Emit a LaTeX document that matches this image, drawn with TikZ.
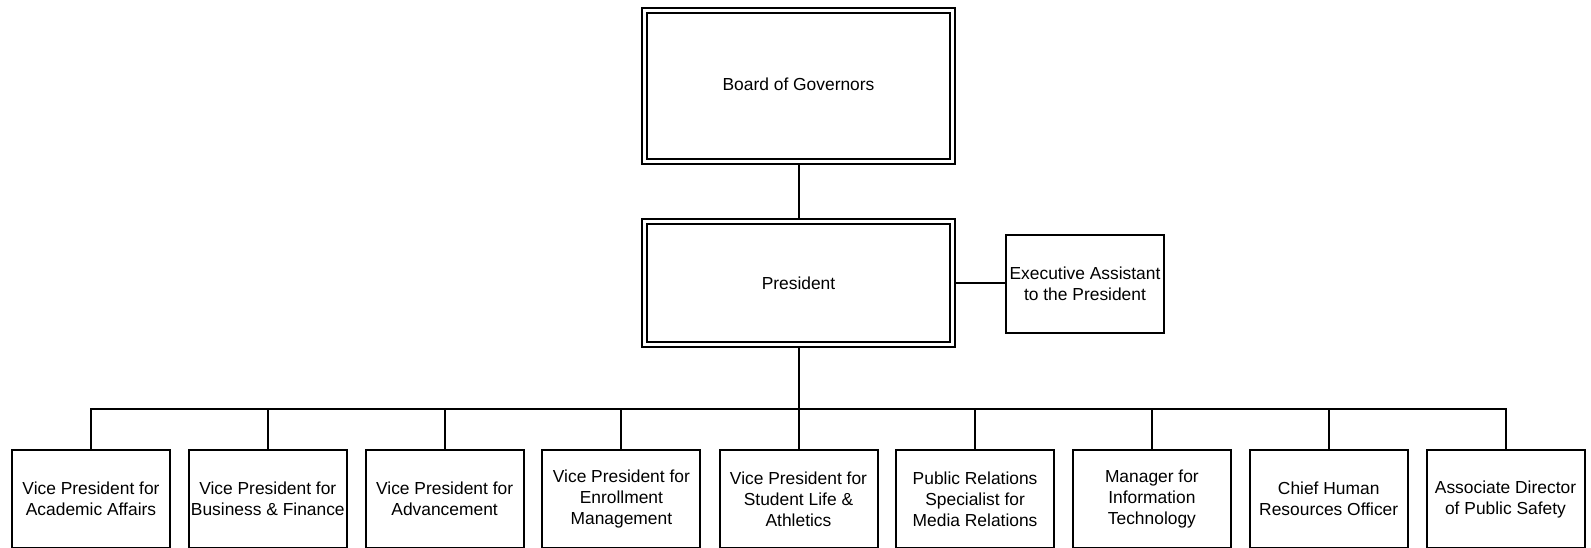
\documentclass[tikz,border=0pt]{standalone}
\usepackage{fontspec}
\setmainfont{Liberation Sans}
\begin{document}
\begin{tikzpicture}[x=1pt,y=-1pt,
  every node/.style={font=\fontsize{17.4}{21}\selectfont, align=center, inner sep=0pt},
  dbox/.style={draw=black, line width=2.2pt, double=white, double distance=2.4pt, minimum width=308pt, outer sep=3.4pt},
  sbox/.style={draw=black, line width=2pt, minimum width=158pt, minimum height=98pt, outer sep=1pt},
  conn/.style={draw=black, line width=2pt}]
\useasboundingbox (0,0) rectangle (1591,548);
\node[dbox, minimum height=151pt] (board) at (798.5,86) {\raisebox{3pt}{Board of Governors}};
\node[dbox, minimum height=123pt] (pres) at (798.5,283) {\raisebox{-4pt}{President}};
\node[sbox] (exec) at (1085,284) {Executive Assistant\\to the President};
\node[sbox] (b1) at (91,499) {Vice President for\\Academic Affairs};
\node[sbox] (b2) at (267.8,499) {Vice President for\\Business \& Finance};
\node[sbox] (b3) at (444.6,499) {Vice President for\\Advancement};
\node[sbox] (b4) at (621.4,499) {Vice President for\\Enrollment\\Management};
\node[sbox] (b5) at (798.5,499) {Vice President for\\Student Life \&\\Athletics};
\node[sbox] (b6) at (975.1,499) {Public Relations\\Specialist for\\Media Relations};
\node[sbox] (b7) at (1151.9,499) {Manager for\\Information\\Technology};
\node[sbox] (b8) at (1328.7,499) {Chief Human\\Resources Officer};
\node[sbox] (b9) at (1505.5,499) {Associate Director\\of Public Safety};
\coordinate (bus) at (0,409);
\draw[conn] (board.south) -- (pres.north);
\draw[conn] (pres.east) -- (pres.east -| exec.west);
\draw[conn] (pres.south) -- (pres.south |- bus);
\draw[conn] (b1.north) -- (b1.north |- bus) -- (b9.north |- bus) -- (b9.north);
\foreach \i in {2,...,8} {\draw[conn] (b\i.north) -- (b\i.north |- bus);}
\end{tikzpicture}
\end{document}
